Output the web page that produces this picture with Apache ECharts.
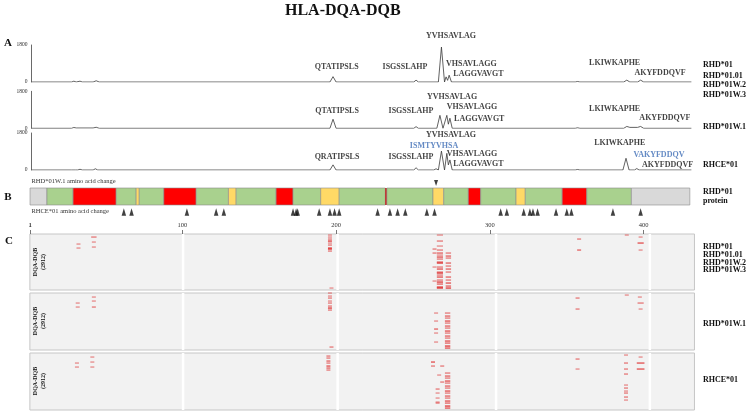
<!DOCTYPE html>
<html>
<head>
<meta charset="utf-8">
<title>HLA-DQA-DQB</title>
<script src="https://cdn.jsdelivr.net/npm/echarts@6.0.0/dist/echarts.min.js"></script>
<style>
  html, body { margin: 0; padding: 0; background: #fff; }
  #chart { width: 750px; height: 419px; }
</style>
</head>
<body>
<div id="chart"></div>
<script>
// ---------- data ----------
// A: predicted peptide signal along the RHD residue axis, [residue, intensity]
const traceRhd01 = [[2,0],[28,0],[29.5,40],[31,0],[32,0],[33.5,40],[35,0],[42,0],[44,60],[46,0],[196,0],[198,260],[200,0],[250.5,0],[252,90],[253.5,0],[266.5,0],[268.5,1700],[270.5,0],[271.5,250],[272.5,80],[273.5,330],[275,0],[355.5,0],[357,25],[358.5,0],[387,0],[389,90],[391,0],[396,0],[398,90],[400,0],[431,0]];
const traceRhdW1 = [[2,0],[28,0],[29.5,40],[31,15],[42,15],[44,50],[46,0],[196,0],[198,440],[200,0],[250.5,0],[252,80],[253.5,0],[265.5,0],[267.5,630],[269.5,0],[270.5,0],[272,630],[273,200],[274,490],[275.5,0],[355.5,0],[357,25],[358.5,0],[387,0],[389,90],[391,45],[396,45],[398,90],[400,0],[431,0]];
const traceRhce01 = [[2,0],[28,0],[29,35],[30.5,0],[32,0],[33.5,35],[35,0],[42,0],[43.5,60],[45,0],[196,0],[198,250],[200,0],[250.5,0],[252,110],[253.5,0],[263.5,0],[265,60],[266,0],[266.5,0],[268.5,920],[270.5,0],[271,0],[272,810],[273,250],[274,490],[275.5,0],[355.5,0],[357,25],[358.5,0],[386.5,0],[388.5,570],[390.5,0],[394,0],[395.5,70],[397,0],[431,0]];

// B: RHD*01 protein topology
const segStart = [1, 12, 29, 57, 70, 72, 88, 109, 130, 135, 161, 172, 190, 202, 232, 233, 263, 270, 286, 294, 317, 323, 347, 363, 392];
const segEnd   = [12, 29, 57, 70, 72, 88, 109, 130, 135, 161, 172, 190, 202, 232, 233, 263, 270, 286, 294, 317, 323, 347, 363, 392, 430];
const segKind  = ['terminal','membrane','exofacial','membrane','endofacial','membrane','exofacial','membrane','endofacial','membrane','exofacial','membrane','endofacial','membrane','site','membrane','endofacial','membrane','exofacial','membrane','endofacial','membrane','exofacial','membrane','terminal'];
const rhceChange = [62, 67, 103, 122, 127, 172, 174, 175, 189, 196, 199, 202, 227, 235, 240, 245, 259, 264, 307, 311, 322, 326, 328, 331, 343, 350, 353, 380, 398];
const w1Change = [265];

// C: binders over 2912 DQA-DQB alleles, [residue, row bin, strength, length]
const hitsRhd01 = [
  [32.5,10,.5],[32.5,14,.5],[42.5,3,.6,3.5],[42.5,8,.5],[42.5,13,.5],
  [196,1,.5],[196,3,.5],[196,5,.6],[196,7,.9],[196,9,.5],[196,11,.6],[196,14,.9],[196,15,.9],[196,17,.6],[197,54,.5],
  [264,15,.6],[264,19,.6],[264,33,.5],[264,47,.5],
  [267.5,1,.5,4],[267.5,7,.6,4],[267.5,12,.5,4],[267.5,16,.6,4],[267.5,19,.7,4],[267.5,21,.5,4],[267.5,23,.8,4],[267.5,25,.6,4],[267.5,28,.7,4],[267.5,29,.9,4],[267.5,33,.6,4],[267.5,35,.8,4],[267.5,38,.6,4],[267.5,39,.9,4],[267.5,41,.6,4],[267.5,43,.8,4],[267.5,46,.6,4],[267.5,48,.9,4],[267.5,50,.7,4],[267.5,53,.9,4],[267.5,54,.9,4],
  [273,19,.6,3.5],[273,22,.7,3.5],[273,24,.6,3.5],[273,29,.7,3.5],[273,32,.6,3.5],[273,35,.7,3.5],[273,38,.6,3.5],[273,43,.7,3.5],[273,46,.6,3.5],[273,49,.8,3.5],[273,52,.7,3.5],[273,54,.9,3.5],
  [358,5,.6],[358,16,.7],[389,1,.5],[398,3,.5],[398,9,.8,4],[398,16,.5]
];
const hitsRhdW1 = [
  [32,10,.5],[32,14,.5],[42.5,4,.5],[42.5,8,.5],[42.5,14,.6],
  [196,0,.5],[196,3,.5],[196,5,.6],[196,8,.5],[196,10,.6],[196,13,.6],[196,15,.9],[196,17,.6],[197,54,.6],
  [265,20,.5],[265,28,.5],[265,36,.7],[265,40,.5],[265,49,.5],
  [272.5,20,.6,3.5],[272.5,23,.7,3.5],[272.5,25,.6,3.5],[272.5,28,.8,3.5],[272.5,30,.6,3.5],[272.5,33,.7,3.5],[272.5,35,.6,3.5],[272.5,38,.8,3.5],[272.5,40,.6,3.5],[272.5,43,.7,3.5],[272.5,45,.6,3.5],[272.5,48,.8,3.5],[272.5,50,.7,3.5],[272.5,53,.9,3.5],[272.5,55,.8,3.5],
  [357,5,.6],[357,16,.6],[389,2,.5],[397.5,4,.5],[398,10,.6,4],[398,16,.5]
];
const hitsRhce01 = [
  [31.5,10,.5],[31.5,14,.5],[41.5,4,.5],[41.5,9,.5],[41.5,14,.5],
  [195,3,.6],[195,5,.6],[195,8,.7],[195,10,.6],[195,13,.8],[195,15,.7],[195,17,.6],
  [263,9,.8],[263,13,.6],[269,13,.6],[267,22,.5],[269,29,.6],[266,36,.6],[266,40,.5],[266,45,.5],[266,49,.5],[266,50,.6],
  [272.5,20,.6,3.5],[272.5,23,.7,3.5],[272.5,25,.6,3.5],[272.5,28,.8,3.5],[272.5,30,.6,3.5],[272.5,33,.7,3.5],[272.5,35,.6,3.5],[272.5,38,.8,3.5],[272.5,40,.6,3.5],[272.5,43,.7,3.5],[272.5,45,.6,3.5],[272.5,48,.8,3.5],[272.5,50,.7,3.5],[272.5,53,.9,3.5],[272.5,55,.8,3.5],
  [357,6,.6],[357,16,.5],[388.5,2,.5],[388.5,10,.6],[388.5,16,.6],[388.5,21,.6],[388.5,32,.5],[388.5,35,.6],[388.5,38,.5],[388.5,40,.6],[388.5,44,.6],[388.5,47,.5],
  [398,4,.5],[398,10,.8,5],[398,16,.8,5]
];

const axisTicks = [1, 100, 200, 300, 400];
const blockEdges = [100.5, 201, 304, 404];

// ---------- layout ----------
const SERIF = '"Liberation Serif", "DejaVu Serif", serif';
const X0 = 28.5, K = 1.538;   // px of residue 0, px per residue
function span(min, max) {
  return { left: X0 + K * min, width: K * (max - min) };
}

const segColor = {
  terminal: '#d9d9d9', membrane: '#a9d18e', exofacial: '#ff0000',
  endofacial: '#ffd966', site: '#c00000'
};

// peptide annotations per row: [text, residue, level, align, colour]
const notesA = [
  [['YVHSAVLAG',274.7,2223],['QTATIPSLS',200.4,744],['ISGSSLAHP',244.8,744],['VHSAVLAGG',271.5,876,'left'],['LAGGVAVGT',276.2,389,'left'],['LKIWKAPHE',381.1,939],['AKYFDDQVF',410.6,423]],
  [['YVHSAVLAG',275.4,1523],['QTATIPSLS',200.6,842],['ISGSSLAHP',248.7,842],['VHSAVLAGG',271.9,1036,'left'],['LAGGVAVGT',276.7,438,'left'],['LKIWKAPHE',381.1,924],['AKYFDDQVF',413.8,486]],
  [['YVHSAVLAG',274.7,1703],['ISMTYVHSA',263.7,1192,'center','#3d6db5'],['QRATIPSLS',200.6,647],['ISGSSLAHP',248.7,647],['VHSAVLAGG',271.9,803,'left'],['LAGGVAVGT',276.2,292,'left'],['LKIWKAPHE',384.4,1299],['VAKYFDDQV',409.9,730,'center','#3d6db5'],['AKYFDDQVF',415.5,243]]
];

const rowTopsA = [45, 91.3, 133];
const rowTopsC = [[234, 56], [293, 57], [353, 57]];
const C_MIN = 0.9, C_MAX = 433;

const grids = [];
const xAxes = [];
const yAxes = [];
const series = [];

// panel A rows
[traceRhd01, traceRhdW1, traceRhce01].forEach((trace, i) => {
  grids.push(Object.assign({ top: rowTopsA[i], height: 37, outerBoundsMode: 'none' }, span(2, 431)));
  xAxes.push({ gridIndex: i, type: 'value', min: 2, max: 431, show: false });
  yAxes.push({
    gridIndex: i, type: 'value', min: 0, max: 1800, interval: 1800,
    axisLine: { show: true, lineStyle: { color: '#444', width: 0.8 } },
    axisTick: { show: false }, splitLine: { show: false },
    axisLabel: { fontSize: 5.5, color: '#333', fontFamily: SERIF, margin: 4, formatter: v => String(v) }
  });
  series.push({
    type: 'line', xAxisIndex: i, yAxisIndex: i, data: trace,
    symbol: 'none', lineStyle: { color: '#3a3a3a', width: 0.8 }, silent: true
  });
  series.push({
    type: 'scatter', xAxisIndex: i, yAxisIndex: i, clip: false, silent: true,
    symbolSize: 1, itemStyle: { color: 'transparent' },
    data: notesA[i].map(n => ({
      value: [n[1], n[2]],
      label: {
        show: true, position: 'inside', formatter: n[0],
        align: n[3] || 'center', verticalAlign: 'middle',
        color: n[4] || '#111', fontSize: 8, fontWeight: 'bold', fontFamily: SERIF
      }
    }))
  });
});

// panel B
grids.push(Object.assign({ top: 188, height: 17, outerBoundsMode: 'none' }, span(1, 430)));
xAxes.push({ gridIndex: 3, type: 'value', min: 1, max: 430, show: false });
yAxes.push({ gridIndex: 3, type: 'value', min: 0, max: 1, show: false });
series.push({
  type: 'custom', xAxisIndex: 3, yAxisIndex: 3, silent: true,
  data: segStart.map((s, i) => [s, segEnd[i], i]),
  encode: { x: [0, 1] },
  renderItem(params, api) {
    const a = api.coord([api.value(0), 1]);
    const b = api.coord([api.value(1), 0]);
    const kind = segKind[api.value(2)];
    return {
      type: 'rect',
      shape: { x: a[0], y: a[1], width: b[0] - a[0], height: b[1] - a[1] },
      style: { fill: segColor[kind], stroke: kind === 'site' ? null : '#8c8c8c', lineWidth: 0.6 }
    };
  }
});
series.push({
  type: 'scatter', xAxisIndex: 3, yAxisIndex: 3, clip: false, silent: true,
  data: rhceChange.map(v => [v, 0]),
  symbol: 'triangle', symbolSize: [4.5, 7.5], symbolOffset: [0, 7], itemStyle: { color: '#111' }
});
series.push({
  type: 'scatter', xAxisIndex: 3, yAxisIndex: 3, clip: false, silent: true,
  data: w1Change.map(v => [v, 1]),
  symbol: 'path://M0,0L10,0L5,10Z', symbolSize: [4, 6], symbolOffset: [0, -5], itemStyle: { color: '#111' }
});

// panel C
[hitsRhd01, hitsRhdW1, hitsRhce01].forEach((hits, i) => {
  const g = 4 + i;
  grids.push(Object.assign({
    top: rowTopsC[i][0], height: rowTopsC[i][1], show: true,
    backgroundColor: '#f2f2f2', borderColor: '#c6c6c6', borderWidth: 1, outerBoundsMode: 'none'
  }, span(C_MIN, C_MAX)));
  xAxes.push(i === 0 ? {
    gridIndex: g, type: 'value', min: C_MIN, max: C_MAX, position: 'top',
    axisLine: { show: false }, splitLine: { show: false },
    axisTick: { show: true, length: 4, customValues: axisTicks, lineStyle: { color: '#555', width: 0.8 } },
    axisLabel: { customValues: axisTicks, fontSize: 6.5, color: '#333', fontFamily: SERIF, margin: 5 }
  } : { gridIndex: g, type: 'value', min: C_MIN, max: C_MAX, show: false });
  yAxes.push({ gridIndex: g, type: 'value', min: 0, max: rowTopsC[i][1], inverse: true, show: false });
  series.push({
    type: 'custom', xAxisIndex: g, yAxisIndex: g, silent: true,
    data: blockEdges.map(v => [v]),
    renderItem(params, api) {
      const a = api.coord([api.value(0), 0]);
      const b = api.coord([api.value(0), rowTopsC[i][1]]);
      return { type: 'line', shape: { x1: a[0], y1: a[1], x2: b[0], y2: b[1] },
        style: { stroke: '#ffffff', lineWidth: 2.5 } };
    }
  });
  series.push({
    type: 'custom', xAxisIndex: g, yAxisIndex: g, silent: true,
    dimensions: ['aa', 'row', 'level', 'len'],
    data: hits,
    encode: { x: 0, y: 1 },
    renderItem(params, api) {
      const len = api.value(3) || 2.6;
      const p = api.coord([api.value(0) - len / 2, api.value(1)]);
      const q = api.coord([api.value(0) + len / 2, api.value(1)]);
      return { type: 'rect', shape: { x: p[0], y: p[1] - 0.6, width: q[0] - p[0], height: 1.3 },
        style: { fill: 'rgba(222,36,36,' + api.value(2) + ')' } };
    }
  });
});

// ---------- text ----------
function txt(x, y, text, extra) {
  return { type: 'text', x, y, silent: true, style: Object.assign({
    text, fontFamily: SERIF, fontSize: 8, fontWeight: 'bold', fill: '#111',
    align: 'left', verticalAlign: 'middle'
  }, extra || {}) };
}
const graphic = [
  txt(8, 43, 'A', { fontSize: 11, align: 'center' }),
  txt(8, 197, 'B', { fontSize: 11, align: 'center' }),
  txt(9, 241.5, 'C', { fontSize: 11, align: 'center' }),
  txt(703, 65, 'RHD*01'), txt(703, 75.5, 'RHD*01.01'), txt(703, 85, 'RHD*01W.2'), txt(703, 95, 'RHD*01W.3'),
  txt(703, 127, 'RHD*01W.1'),
  txt(703, 165, 'RHCE*01'),
  txt(703, 191.7, 'RHD*01'), txt(703, 200.5, 'protein'),
  txt(703, 246.7, 'RHD*01'), txt(703, 254.5, 'RHD*01.01'), txt(703, 262.5, 'RHD*01W.2'), txt(703, 270, 'RHD*01W.3'),
  txt(703, 324, 'RHD*01W.1'),
  txt(703, 380, 'RHCE*01'),
  txt(31.5, 181.5, 'RHD*01W.1 amino acid change', { fontWeight: 'normal', fontSize: 6.5, fill: '#333' }),
  txt(31.5, 211, 'RHCE*01 amino acid change', { fontWeight: 'normal', fontSize: 6.5, fill: '#333' })
];
[262, 321, 381].forEach(cy => {
  graphic.push({
    type: 'text', x: 39, y: cy, rotation: Math.PI / 2, silent: true,
    style: { text: 'DQA-DQB\n(2912)', fontFamily: SERIF, fontSize: 6, fontWeight: 'bold',
      fill: '#111', align: 'center', verticalAlign: 'middle', lineHeight: 8 }
  });
});

const chart = echarts.init(document.getElementById('chart'), null, { renderer: 'canvas' });
chart.setOption({
  animation: false,
  backgroundColor: '#ffffff',
  title: {
    text: 'HLA-DQA-DQB', left: 285, top: 3, padding: 0,
    textStyle: { fontFamily: SERIF, fontSize: 16, fontWeight: 'bold', color: '#111' }
  },
  grid: grids,
  xAxis: xAxes,
  yAxis: yAxes,
  series: series,
  graphic: graphic
});

// the first residue label is dropped by the axis, so place it at the tick position
const firstX = chart.convertToPixel({ xAxisIndex: 4 }, axisTicks[0]);
graphic.push(txt(firstX, 229, String(axisTicks[0]), {
  fontWeight: 'normal', fontSize: 6.5, fill: '#333', align: 'center', verticalAlign: 'bottom'
}));
chart.setOption({ graphic: graphic });
</script>
</body>
</html>
